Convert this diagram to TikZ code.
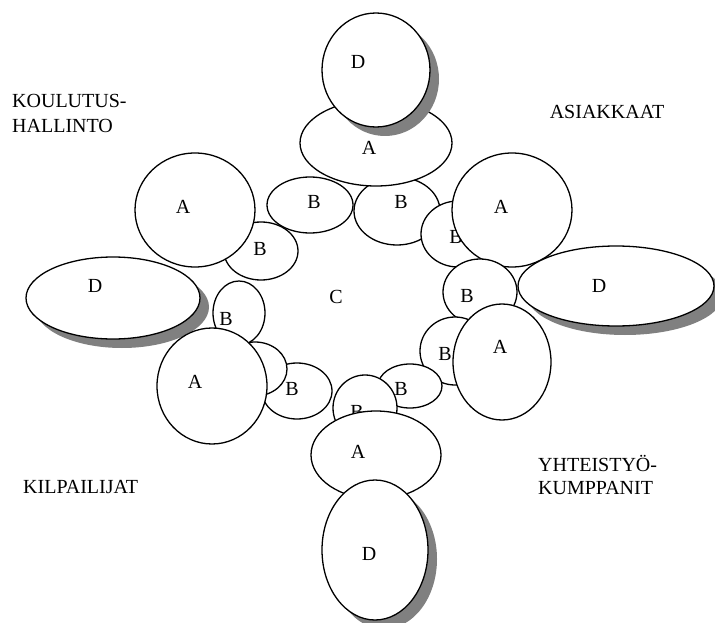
\documentclass[tikz,border=0pt]{standalone}
\usepackage{fontspec}
\setmainfont{Liberation Serif}
\usetikzlibrary{shapes.geometric,shadows}
\definecolor{shadowgray}{HTML}{808080}
\tikzset{
  blob/.style={ellipse, draw=black, line width=1.3pt, fill=white, inner sep=0pt, outer sep=0pt},
  shadowed/.style={blob, drop shadow={shadow xshift=9pt, shadow yshift=-9pt, fill=shadowgray, draw=none, opacity=1}},
  sz/.style 2 args={minimum width=#1pt, minimum height=#2pt},
  letter/.style={anchor=base, inner sep=0pt, font=\fontsize{20pt}{24pt}\selectfont},
  caption/.style={anchor=base west, inner sep=0pt, font=\fontsize{20pt}{24pt}\selectfont},
}
\begin{document}
\begin{tikzpicture}[x=1pt, y=-1pt]
\useasboundingbox (0,0) rectangle (715,623);
\fill[white] (0,0) rectangle (715,623);
\clip (0,0) rectangle (715,623);

% left arm
\node[shadowed, sz={174}{82}] (dL) at (113,298) {};
\node[letter] (tdL) at (95,292) {D};

% upper-left group
\node[blob, sz={74}{58}] (bUL) at (261,251) {};
\node[letter] (tbUL) at (260,255) {B};
\node[blob, sz={120}{114}] (aUL) at (195,210) {};
\node[letter] (taUL) at (183,213) {A};

% top group
\node[blob, sz={86}{56}] (b1) at (310,205) {};
\node[letter] (tb1) at (314,208) {B};
\node[blob, sz={86}{68}] (b2) at (397,211) {};
\node[letter] (tb2) at (401,208) {B};
\node[blob, sz={74}{66}] (b3) at (458,234) {};
\node[letter] (tb3) at (456,243) {B};
\node[blob, sz={152}{86}] (aT) at (376,143) {};
\node[letter] (taT) at (369,154) {A};
\node[shadowed, sz={108}{114}] (dT) at (376,70) {};
\node[letter] (tdT) at (358,69) {D};

% right group
\node[blob, sz={120}{114}] (aR) at (512,210) {};
\node[letter] (taR) at (501,213) {A};
\node[shadowed, sz={196}{80}] (dR) at (616,286) {};
\node[letter] (tdR) at (599,292) {D};
\node[blob, sz={74}{66}] (bR1) at (480,292) {};
\node[letter] (tbR1) at (467,302) {B};

% lower-right and bottom group
\node[blob, sz={70}{68}] (bR2) at (455,351) {};
\node[letter] (tbR2) at (445,360) {B};
\node[blob, sz={64}{44}] (bR3) at (410,386) {};
\node[letter] (tbR3) at (401,395) {B};
\node[blob, sz={64}{66}] (bB) at (365,408) {};
\node[letter] (tbB) at (357,418) {B};
\node[blob, sz={98}{116}] (aLR) at (502,362) {};
\node[letter] (taLR) at (500,353) {A};
\node[blob, sz={130}{88}] (aB) at (376,455) {};
\node[letter] (taB) at (358,458) {A};
\node[shadowed, sz={106}{140}] (dB) at (375,550) {};
\node[letter] (tdB) at (369,560) {D};

% lower-left group
\node[blob, sz={70}{56}] (bLL) at (297,391) {};
\node[letter] (tbLL) at (292,395) {B};
\node[blob, sz={64}{54}] (bLM) at (255,369) {};
\node[blob, sz={52}{64}] (bLU) at (239,313) {};
\node[letter] (tbLU) at (226,325) {B};
\node[blob, sz={110}{116}] (aLL) at (212,386) {};
\node[letter] (taLL) at (195,388) {A};

% centre
\node[letter] (tc) at (336,303) {C};

% group names
\node[caption] (kh1) at (12,108) {KOULUTUS-};
\node[caption] (kh2) at (12,133) {HALLINTO};
\node[letter] (as) at (607,119) {ASIAKKAAT};
\node[caption] (kp) at (23,493) {KILPAILIJAT};
\node[caption] (yk1) at (538,471) {YHTEISTYÖ-};
\node[caption] (yk2) at (538,494) {KUMPPANIT};
\end{tikzpicture}
\end{document}
